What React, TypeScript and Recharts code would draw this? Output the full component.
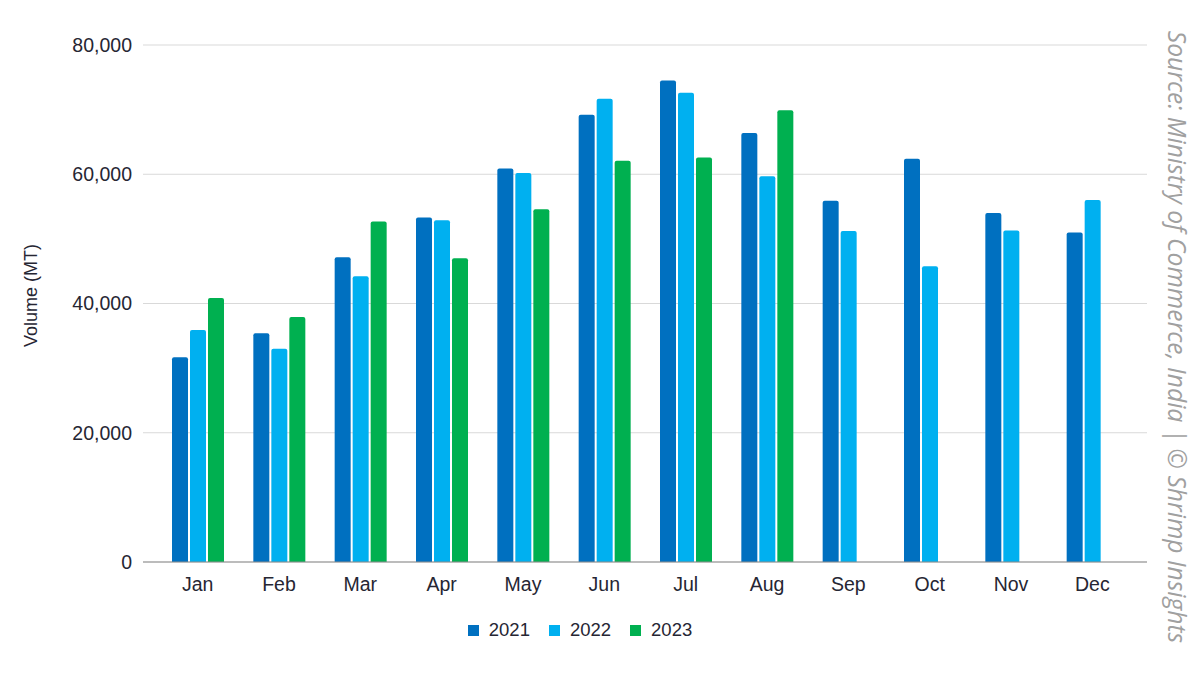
import { Bar, BarChart, CartesianGrid, Legend, XAxis, YAxis } from "recharts";

const MONTHS = ["Jan", "Feb", "Mar", "Apr", "May", "Jun", "Jul", "Aug", "Sep", "Oct", "Nov", "Dec"];
const VOL_2021 = [31700, 35400, 47150, 53300, 60900, 69200, 74500, 66400, 55900, 62400, 54000, 51000];
const VOL_2022 = [35900, 33000, 44200, 52900, 60200, 71700, 72600, 59700, 51200, 45750, 51300, 56000];
const VOL_2023 = [40850, 37900, 52700, 47000, 54600, 62100, 62600, 69900, null, null, null, null];
const Y_TICKS = [0, 20000, 40000, 60000, 80000];

const SERIES = [
  { key: "y2021", name: "2021", color: "#0070c0" },
  { key: "y2022", name: "2022", color: "#00b0f0" },
  { key: "y2023", name: "2023", color: "#00b050" },
];
const FONT = "'Liberation Sans', Arial, sans-serif";
const TEXT = "#262633";

const chartData = MONTHS.map((m, i) => ({
  month: m,
  y2021: VOL_2021[i],
  y2022: VOL_2022[i],
  y2023: VOL_2023[i],
}));

const tickStyle = { fill: TEXT, fontSize: 19.5, fontFamily: FONT };

// legend with fixed height so the plot area stays put
function YearLegend() {
  return (
    <div style={{ height: 24, display: "flex", justifyContent: "center", alignItems: "center", gap: 19, fontFamily: FONT, fontSize: 18.5, color: TEXT }}>
      {SERIES.map((s) => (
        <div key={s.key} style={{ display: "flex", alignItems: "center" }}>
          <span style={{ width: 11, height: 11, background: s.color, display: "inline-block", marginRight: 10 }} />
          <span>{s.name}</span>
        </div>
      ))}
    </div>
  );
}

function AxisTitle(props: any) {
  const vb = props.viewBox || {};
  const cy = vb.y + vb.height / 2 - 8;
  return (
    <text x={31} y={cy} transform={`rotate(-90 31 ${cy})`} textAnchor="middle" dominantBaseline="central" fill={TEXT} fontSize={18} fontFamily={FONT}>
      Volume (MT)
    </text>
  );
}

export default function App() {
  return (
    <div style={{ position: "absolute", left: 0, top: 0, width: 1200, height: 675, background: "#fff" }}>
      <BarChart
        width={1160}
        height={675}
        data={chartData}
        margin={{ top: 45, right: 13, left: 0, bottom: 0 }}
        barSize={16}
        barGap={2}
      >
        <CartesianGrid vertical={false} stroke="#d9d9d9" strokeWidth={1} />
        <XAxis
          dataKey="month"
          padding={{ left: 14, right: 14 }}
          tick={tickStyle}
          tickLine={false}
          tickSize={0}
          tickMargin={15}
          height={89}
          axisLine={{ stroke: "#8c8c8c" }}
        />
        <YAxis
          domain={[0, 80000]}
          ticks={Y_TICKS}
          width={143}
          tick={tickStyle}
          tickLine={false}
          axisLine={false}
          tickSize={0}
          tickMargin={11}
          tickFormatter={(v: number) => v.toLocaleString("en-US")}
          label={<AxisTitle />}
        />
        <Legend verticalAlign="bottom" content={<YearLegend />} wrapperStyle={{ top: 618, bottom: "auto", left: 0, width: 1160 }} />
        {SERIES.map((s) => (
          <Bar key={s.key} dataKey={s.key} name={s.name} fill={s.color} radius={[2, 2, 0, 0]} isAnimationActive={false} />
        ))}
      </BarChart>
      <div
        style={{
          position: "absolute",
          left: 1177,
          top: 337,
          transform: "translate(-50%, -50%) rotate(90deg)",
          whiteSpace: "nowrap",
          fontFamily: "'Open Sans', sans-serif",
          fontStyle: "italic",
          fontSize: 24.6,
          color: "#a0a0a0",
        }}
      >
        Source: Ministry of Commerce, India | © Shrimp Insights
      </div>
    </div>
  );
}
